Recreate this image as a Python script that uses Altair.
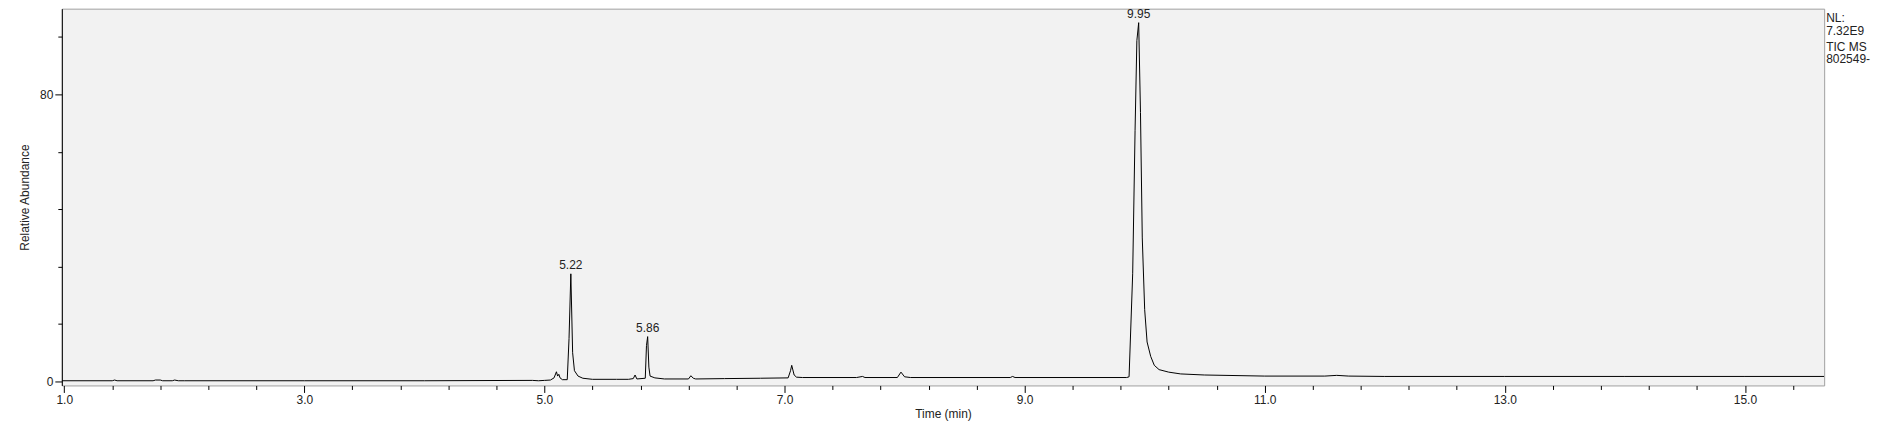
import altair as alt
import pandas as pd
import numpy as np

# chromatogram trace (time in min, relative abundance)
times = [0.98, 1.40, 1.42, 1.44, 1.74, 1.76, 1.80, 1.82, 1.90, 1.92, 1.95, 2.0, 3.0, 4.0, 4.90, 4.95, 5.00, 5.05, 5.08, 5.10, 5.11, 5.12, 5.13, 5.15, 5.19, 5.205, 5.22, 5.235, 5.25, 5.28, 5.32, 5.40, 5.60, 5.70, 5.74, 5.755, 5.77, 5.84, 5.85, 5.86, 5.87, 5.88, 5.92, 6.00, 6.20, 6.22, 6.24, 6.26, 6.50, 6.80, 7.03, 7.05, 7.06, 7.08, 7.10, 7.15, 7.60, 7.65, 7.67, 7.94, 7.97, 8.00, 8.05, 8.88, 8.90, 8.92, 9.85, 9.87, 9.90, 9.92, 9.935, 9.95, 9.965, 9.98, 10.0, 10.02, 10.05, 10.08, 10.12, 10.2, 10.3, 10.5, 11.0, 11.5, 11.6, 11.7, 12.0, 13.0, 14.0, 15.0, 15.66]
values = [0.2, 0.2, 0.4, 0.2, 0.2, 0.4, 0.4, 0.2, 0.2, 0.4, 0.2, 0.2, 0.2, 0.2, 0.3, 0.2, 0.3, 0.4, 1.0, 2.7, 1.5, 2.0, 1.0, 0.5, 0.5, 12.0, 30.0, 8.0, 3.0, 1.5, 0.9, 0.6, 0.6, 0.6, 0.8, 1.8, 0.7, 0.9, 10.0, 12.5, 4.0, 1.5, 1.0, 0.7, 0.7, 1.6, 0.9, 0.7, 0.8, 0.9, 1.0, 3.0, 4.5, 1.8, 1.2, 1.1, 1.1, 1.4, 1.1, 1.1, 2.6, 1.3, 1.1, 1.1, 1.4, 1.1, 1.1, 1.3, 30.0, 70.0, 95.0, 100.0, 75.0, 40.0, 20.0, 11.0, 7.0, 4.5, 3.3, 2.6, 2.1, 1.8, 1.5, 1.5, 1.7, 1.5, 1.4, 1.4, 1.4, 1.4, 1.4]

peak_labels = ["5.22", "5.86", "9.95"]
peak_times = [5.22, 5.86, 9.95]
peak_values = [30.0, 12.5, 100.0]

side_text = ["NL:", "7.32E9", "TIC  MS", "802549-"]

W, H = 1768, 378
XD = [0.98, 15.66]
YD = [-1.11, 103.9]

trace = pd.DataFrame({"t": times, "v": values})
peaks = pd.DataFrame({"t": peak_times, "v": peak_values, "lab": peak_labels})
side = pd.DataFrame({"txt": side_text, "yy": [4, 17, 33, 46]})

font = "Liberation Sans"
xvals = [round(v, 1) for v in np.arange(1.0, 15.61, 0.1)]
yvals = list(range(0, 101, 2))

xs = alt.Scale(domain=XD, nice=False, zero=False)
ys = alt.Scale(domain=YD, nice=False, zero=False)

line = alt.Chart(trace).mark_line(color="black", strokeWidth=1, clip=True).encode(
    x=alt.X("t:Q", scale=xs, title="Time (min)",
            axis=alt.Axis(values=xvals, grid=False, domain=False, labelOverlap=False,
                          labelExpr="abs(datum.value*2 - round(datum.value*2)) < 0.01 ? format(datum.value, '.1f') : ''",
                          tickSize={"expr": "abs(datum.value*2 - round(datum.value*2)) < 0.01 ? 7 : 4"},
                          tickColor="black", labelColor="#222", labelFont=font, labelFontSize=12,
                          titleFont=font, titleFontSize=12, titleFontWeight="normal", titlePadding=3,
                          titleColor="#222", labelPadding=2, labelFlush=False)),
    y=alt.Y("v:Q", scale=ys, title="Relative Abundance",
            axis=alt.Axis(values=yvals, grid=False, domain=True, domainColor="black", labelOverlap=False,
                          labelExpr="datum.value % 10 === 0 ? datum.value : ''",
                          tickSize={"expr": "datum.value % 10 === 0 ? 7 : 4"},
                          tickColor="black", labelColor="#222", labelFont=font, labelFontSize=12,
                          titleFont=font, titleFontSize=12, titleFontWeight="normal", titlePadding=8,
                          titleColor="#222", labelPadding=2)),
)

labels = alt.Chart(peaks).mark_text(dy=-9, fontSize=12, font=font, color="#222").encode(
    x=alt.X("t:Q", scale=xs), y=alt.Y("v:Q", scale=ys), text="lab:N")

sidet = alt.Chart(side).mark_text(align="left", baseline="top", fontSize=12, font=font, color="#222").encode(
    x=alt.value(W + 2), y=alt.Y("yy:Q", scale=None), text="txt:N")

chart = alt.layer(line, labels, sidet).properties(
    width=W, height=H,
    background="white",
    autosize=alt.AutoSizeParams(type="none"),
    padding={"left": 54, "top": 0, "right": 50, "bottom": 36},
).configure_view(fill="#f2f2f2", stroke="#a0a0a0", strokeWidth=1)

chart.save("out.html", embed_options={"renderer": "svg", "actions": False})
